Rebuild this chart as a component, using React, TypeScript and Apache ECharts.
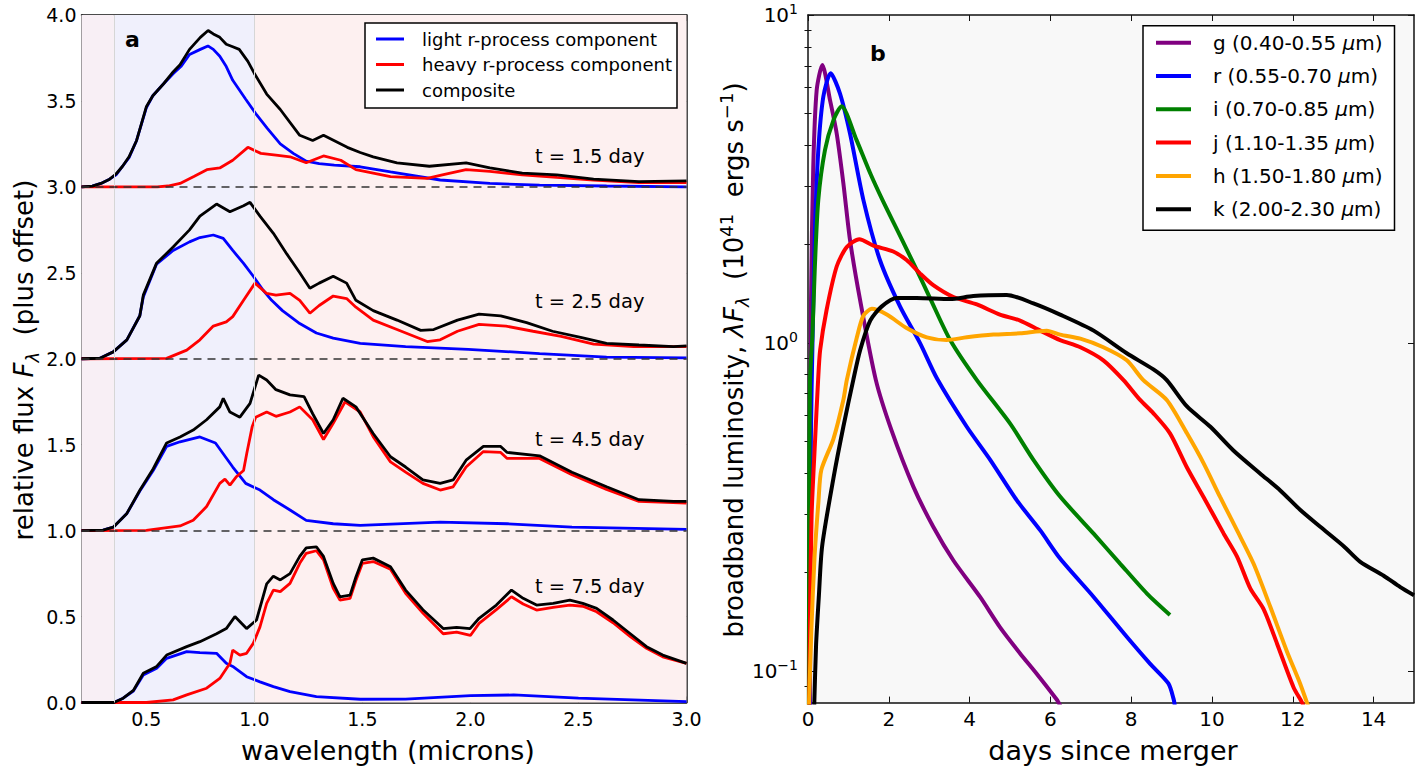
import React, { useEffect, useRef } from 'react';
import * as echarts from 'echarts';

const FONT = 'DejaVu Sans';

// ---------- panel a: spectra, [wavelength (microns), relative flux + offset] ----------
const waveTicks = [0.5, 1.0, 1.5, 2.0, 2.5, 3.0];
const offsetLevels = [1, 2, 3];
const epochLabels = ['t = 1.5 day', 't = 2.5 day', 't = 4.5 day', 't = 7.5 day'];
const componentNames = ['light r-process component', 'heavy r-process component', 'composite'];
const componentColors = ['#0000ff', '#ff0000', '#000000'];

const light15 = [[0.2,3.0],[0.25,3.004],[0.29,3.02],[0.33,3.045],[0.36,3.07],[0.39,3.12],[0.42,3.17],[0.455,3.27],[0.5,3.46],[0.53,3.53],[0.58,3.6],[0.625,3.66],[0.66,3.7],[0.7,3.77],[0.75,3.8],[0.785,3.82],[0.81,3.8],[0.84,3.76],[0.87,3.7],[0.9,3.62],[0.96,3.51],[1.01,3.42],[1.06,3.34],[1.12,3.25],[1.18,3.195],[1.24,3.15],[1.3,3.135],[1.37,3.127],[1.49,3.117],[1.63,3.087],[1.86,3.04],[2.09,3.02],[2.32,3.01],[2.63,3.005],[3.0,3.0]];
const heavy15 = [[0.2,3.0],[0.55,3.0],[0.6,3.005],[0.656,3.02],[0.72,3.06],[0.78,3.1],[0.84,3.11],[0.9,3.155],[0.97,3.23],[1.03,3.195],[1.1,3.185],[1.165,3.175],[1.24,3.14],[1.32,3.18],[1.4,3.155],[1.47,3.1],[1.55,3.08],[1.63,3.06],[1.8,3.05],[1.87,3.07],[1.98,3.1],[2.09,3.09],[2.24,3.07],[2.4,3.055],[2.57,3.04],[2.78,3.025],[3.0,3.025]];
const composite15 = [[0.2,3.0],[0.25,3.004],[0.29,3.02],[0.33,3.045],[0.36,3.075],[0.39,3.12],[0.42,3.175],[0.455,3.27],[0.5,3.466],[0.53,3.53],[0.58,3.6],[0.625,3.67],[0.656,3.71],[0.7,3.8],[0.75,3.87],[0.786,3.91],[0.81,3.89],[0.84,3.87],[0.87,3.83],[0.9,3.815],[0.93,3.8],[0.97,3.73],[1.0,3.66],[1.057,3.54],[1.12,3.45],[1.21,3.3],[1.27,3.27],[1.32,3.3],[1.43,3.23],[1.49,3.2],[1.55,3.175],[1.66,3.14],[1.81,3.12],[1.98,3.14],[2.09,3.11],[2.24,3.08],[2.4,3.07],[2.57,3.045],[2.78,3.03],[3.0,3.035]];

const light25 = [[0.2,2.0],[0.285,2.003],[0.347,2.04],[0.41,2.11],[0.47,2.25],[0.486,2.36],[0.547,2.55],[0.624,2.63],[0.7,2.68],[0.748,2.705],[0.81,2.72],[0.856,2.7],[0.9,2.63],[0.95,2.555],[0.995,2.48],[1.04,2.4],[1.08,2.34],[1.13,2.28],[1.21,2.205],[1.287,2.15],[1.365,2.12],[1.49,2.09],[1.7,2.07],[1.99,2.055],[2.32,2.03],[2.63,2.01],[3.0,2.005]];
const heavy25 = [[0.2,2.0],[0.594,2.002],[0.687,2.05],[0.748,2.11],[0.81,2.19],[0.87,2.215],[0.9,2.245],[0.95,2.34],[1.003,2.44],[1.057,2.38],[1.1,2.37],[1.165,2.38],[1.21,2.34],[1.257,2.265],[1.3,2.31],[1.365,2.365],[1.427,2.35],[1.47,2.3],[1.55,2.225],[1.66,2.17],[1.8,2.1],[1.86,2.11],[1.94,2.16],[2.04,2.2],[2.165,2.19],[2.29,2.16],[2.42,2.13],[2.57,2.085],[2.755,2.07],[3.0,2.07]];
const composite25 = [[0.2,2.0],[0.285,2.003],[0.347,2.04],[0.41,2.11],[0.47,2.25],[0.486,2.37],[0.547,2.555],[0.624,2.65],[0.7,2.75],[0.748,2.83],[0.825,2.9],[0.887,2.855],[0.95,2.89],[0.98,2.91],[1.026,2.83],[1.088,2.73],[1.15,2.61],[1.21,2.5],[1.257,2.41],[1.3,2.44],[1.365,2.48],[1.427,2.44],[1.47,2.34],[1.55,2.28],[1.66,2.225],[1.77,2.165],[1.83,2.17],[1.94,2.225],[2.04,2.26],[2.14,2.25],[2.26,2.21],[2.38,2.16],[2.51,2.125],[2.63,2.09],[2.78,2.08],[2.94,2.07],[3.0,2.075]];

const light45 = [[0.2,1.0],[0.3,1.003],[0.347,1.02],[0.41,1.1],[0.47,1.23],[0.532,1.35],[0.594,1.49],[0.656,1.517],[0.748,1.545],[0.82,1.51],[0.9,1.37],[0.96,1.275],[1.026,1.236],[1.088,1.18],[1.165,1.12],[1.24,1.06],[1.365,1.04],[1.49,1.03],[1.86,1.05],[2.17,1.04],[2.47,1.02],[3.0,1.007]];
const heavy45 = [[0.2,1.0],[0.5,1.002],[0.656,1.027],[0.717,1.06],[0.779,1.14],[0.84,1.275],[0.864,1.3],[0.887,1.265],[0.918,1.315],[0.95,1.35],[0.965,1.45],[0.99,1.605],[1.006,1.66],[1.057,1.69],[1.1,1.665],[1.165,1.69],[1.21,1.72],[1.27,1.645],[1.32,1.53],[1.365,1.625],[1.42,1.75],[1.49,1.69],[1.55,1.547],[1.63,1.4],[1.7,1.34],[1.78,1.275],[1.86,1.236],[1.92,1.255],[1.98,1.37],[2.06,1.46],[2.14,1.455],[2.17,1.42],[2.32,1.42],[2.47,1.325],[2.63,1.24],[2.78,1.17],[3.0,1.16]];
const composite45 = [[0.2,1.0],[0.3,1.003],[0.347,1.02],[0.41,1.1],[0.47,1.235],[0.532,1.36],[0.594,1.51],[0.656,1.545],[0.717,1.585],[0.779,1.645],[0.84,1.72],[0.856,1.77],[0.887,1.69],[0.933,1.66],[0.98,1.74],[1.02,1.905],[1.057,1.876],[1.1,1.82],[1.165,1.79],[1.23,1.78],[1.27,1.68],[1.32,1.565],[1.365,1.645],[1.41,1.77],[1.47,1.72],[1.55,1.565],[1.63,1.43],[1.7,1.37],[1.78,1.295],[1.86,1.275],[1.92,1.295],[1.98,1.41],[2.06,1.49],[2.14,1.49],[2.17,1.455],[2.32,1.435],[2.47,1.34],[2.63,1.255],[2.78,1.18],[2.94,1.17],[3.0,1.17]];

const light75 = [[0.2,0],[0.35,0.0],[0.393,0.025],[0.44,0.067],[0.486,0.16],[0.548,0.199],[0.594,0.257],[0.687,0.296],[0.748,0.29],[0.825,0.286],[0.87,0.228],[0.9,0.21],[0.964,0.15],[1.026,0.12],[1.088,0.092],[1.165,0.063],[1.287,0.034],[1.49,0.019],[1.7,0.02],[2.0,0.04],[2.2,0.044],[2.5,0.025],[3.0,0.005]];
const heavy75 = [[0.2,0],[0.5,0.0],[0.624,0.015],[0.687,0.044],[0.779,0.083],[0.84,0.14],[0.887,0.228],[0.9,0.305],[0.933,0.276],[0.964,0.286],[0.995,0.344],[1.026,0.44],[1.057,0.577],[1.088,0.654],[1.12,0.645],[1.165,0.693],[1.21,0.81],[1.24,0.868],[1.287,0.883],[1.32,0.83],[1.365,0.664],[1.396,0.596],[1.443,0.606],[1.47,0.71],[1.5,0.81],[1.55,0.82],[1.63,0.775],[1.7,0.635],[1.78,0.52],[1.874,0.4],[1.936,0.41],[2.0,0.39],[2.04,0.46],[2.12,0.54],[2.19,0.615],[2.244,0.573],[2.306,0.538],[2.383,0.554],[2.46,0.567],[2.52,0.56],[2.584,0.528],[2.66,0.464],[2.74,0.383],[2.815,0.315],[2.89,0.266],[3.0,0.228]];
const composite75 = [[0.2,0],[0.35,0.0],[0.393,0.025],[0.44,0.07],[0.486,0.17],[0.548,0.21],[0.594,0.276],[0.687,0.325],[0.748,0.354],[0.825,0.4],[0.87,0.43],[0.91,0.5],[0.964,0.43],[1.01,0.48],[1.057,0.69],[1.088,0.735],[1.12,0.713],[1.165,0.75],[1.21,0.85],[1.24,0.9],[1.287,0.906],[1.32,0.85],[1.365,0.693],[1.396,0.615],[1.443,0.625],[1.47,0.73],[1.5,0.83],[1.55,0.84],[1.63,0.79],[1.7,0.654],[1.78,0.54],[1.874,0.43],[1.936,0.437],[1.998,0.43],[2.04,0.49],[2.12,0.567],[2.19,0.654],[2.244,0.606],[2.306,0.567],[2.383,0.577],[2.46,0.596],[2.52,0.577],[2.584,0.548],[2.66,0.48],[2.74,0.4],[2.815,0.325],[2.89,0.276],[3.0,0.228]];

const lightSpectra = [light15, light25, light45, light75];
const heavySpectra = [heavy15, heavy25, heavy45, heavy75];
const compositeSpectra = [composite15, composite25, composite45, composite75];

// ---------- panel b: broadband light curves, [days since merger, luminosity (1e41 erg/s)] ----------
const dayTicks = [0, 2, 4, 6, 8, 10, 12, 14];
const lumMajor = [0.1, 1, 10];
const lumMinor = [0.09, 0.2, 0.3, 0.4, 0.5, 0.6, 0.7, 0.8, 0.9, 2, 3, 4, 5, 6, 7, 8, 9];
const bandNames = ['g (0.40-0.55 μm)', 'r (0.55-0.70 μm)', 'i (0.70-0.85 μm)', 'j (1.10-1.35 μm)', 'h (1.50-1.80 μm)', 'k (2.00-2.30 μm)'];
const bandColors = ['#800080', '#0000ff', '#008000', '#ff0000', '#ffa500', '#000000'];

const gBand = [[0.04,0.075],[0.05,0.3],[0.075,1.35],[0.13,3.44],[0.215,5.9],[0.355,7.04],[0.545,5.5],[0.71,4.35],[0.875,3.07],[1.04,2.06],[1.29,1.35],[1.68,0.77],[2.07,0.54],[2.61,0.364],[3.1,0.275],[3.6,0.217],[4.26,0.168],[4.75,0.136],[5.25,0.113],[5.66,0.098],[6.16,0.0816],[6.25,0.078]];
const rBand = [[0.05,0.075],[0.07,0.5],[0.115,1.06],[0.17,2.16],[0.255,3.87],[0.38,5.64],[0.56,6.64],[0.79,5.77],[1.04,4.35],[1.37,2.73],[1.78,1.79],[2.28,1.29],[2.77,1.0],[3.19,0.78],[3.93,0.555],[4.51,0.44],[5.17,0.331],[5.75,0.268],[6.24,0.22],[7.07,0.168],[7.89,0.127],[8.47,0.105],[8.92,0.0915],[9.05,0.082],[9.08,0.078]];
const iBand = [[0.02,0.075],[0.03,0.3],[0.05,0.77],[0.11,1.06],[0.17,1.71],[0.255,2.73],[0.42,3.87],[0.63,4.78],[0.83,5.27],[1.2,4.16],[1.54,3.29],[1.86,2.7],[2.28,2.12],[2.69,1.67],[3.02,1.37],[3.52,1.02],[4.18,0.77],[5.0,0.568],[5.58,0.44],[6.24,0.34],[7.07,0.262],[7.73,0.212],[8.39,0.172],[8.96,0.148]];
const jBand = [[0.03,0.075],[0.05,0.15],[0.09,0.3],[0.17,0.49],[0.25,0.77],[0.3,0.95],[0.46,1.26],[0.71,1.71],[0.96,1.96],[1.27,2.07],[1.62,1.98],[2.11,1.9],[2.44,1.79],[2.77,1.63],[3.1,1.5],[3.6,1.38],[4.18,1.31],[4.75,1.22],[5.25,1.17],[5.75,1.09],[6.24,1.02],[6.74,0.97],[7.31,0.885],[7.81,0.77],[8.22,0.67],[8.55,0.61],[8.96,0.53],[9.38,0.417],[9.79,0.339],[10.29,0.262],[10.62,0.223],[10.95,0.178],[11.28,0.154],[11.61,0.121],[12.02,0.089],[12.23,0.08],[12.28,0.077]];
const hBand = [[0.02,0.075],[0.08,0.13],[0.16,0.22],[0.26,0.33],[0.33,0.41],[0.63,0.51],[0.875,0.67],[0.96,0.77],[1.21,1.04],[1.37,1.21],[1.58,1.27],[1.95,1.22],[2.44,1.11],[2.94,1.04],[3.43,1.02],[3.93,1.04],[4.59,1.06],[5.25,1.07],[5.91,1.09],[6.24,1.06],[6.74,1.03],[7.31,0.97],[7.89,0.885],[8.3,0.77],[8.88,0.67],[9.38,0.53],[9.79,0.43],[10.2,0.339],[10.62,0.268],[11.03,0.212],[11.44,0.157],[11.85,0.115],[12.18,0.0915],[12.35,0.08],[12.4,0.077]];
const kBand = [[0.15,0.075],[0.2,0.12],[0.27,0.17],[0.35,0.24],[0.63,0.387],[0.875,0.555],[1.12,0.77],[1.29,0.95],[1.54,1.17],[1.82,1.29],[2.2,1.37],[2.69,1.37],[3.52,1.36],[4.09,1.39],[4.92,1.4],[5.58,1.32],[6.24,1.22],[7.07,1.09],[7.89,0.93],[8.55,0.83],[8.88,0.77],[9.38,0.64],[9.96,0.555],[10.53,0.47],[11.19,0.4],[11.69,0.355],[12.18,0.31],[12.68,0.275],[13.26,0.24],[13.67,0.215],[14.25,0.195],[14.66,0.18],[15.0,0.17]];

const bandCurves = [gBand, rBand, iBand, jBand, hBand, kBand];

// ---------- styling helpers ----------
const FRAME = '#111111';
const frameLine = { show: true, onZero: false, lineStyle: { color: FRAME, width: 1.5 } };
const inTick = (length: number, customValues?: number[]) => ({
  show: true,
  inside: true,
  length,
  lineStyle: { color: FRAME, width: 1 },
  ...(customValues ? { customValues } : {}),
});

const mathRich = (fs: number) => ({
  n: { fontFamily: FONT, fontSize: fs, color: '#000' },
  i: { fontFamily: FONT, fontSize: fs, color: '#000', fontStyle: 'italic' },
  sub: { fontFamily: FONT, fontSize: Math.round(fs * 0.7), color: '#000', fontStyle: 'italic', padding: [Math.round(fs * 0.6), 0, 0, 0] },
  sup: { fontFamily: FONT, fontSize: Math.round(fs * 0.7), color: '#000', padding: [0, 0, Math.round(fs * 0.6), 0] },
});

function buildOption() {
  const spectraSeries: any[] = [];
  [lightSpectra, heavySpectra, compositeSpectra].forEach((sets, k) => {
    sets.forEach((d) => {
      spectraSeries.push({
        type: 'line',
        name: componentNames[k],
        data: d,
        xAxisIndex: 0,
        yAxisIndex: 0,
        symbol: 'none',
        lineStyle: { color: componentColors[k], width: 2.8 },
        itemStyle: { color: componentColors[k] },
        z: 3,
      });
    });
  });

  const bandSeries = bandCurves.map((d, i) => ({
    type: 'line',
    name: bandNames[i],
    data: d,
    xAxisIndex: 2,
    yAxisIndex: 2,
    symbol: 'none',
    smooth: 0.25,
    clip: true,
    lineStyle: { color: bandColors[i], width: 4 },
    itemStyle: { color: bandColors[i] },
    z: 3,
  }));

  const regionSeries = {
    type: 'line',
    name: 'regions',
    data: [],
    xAxisIndex: 0,
    yAxisIndex: 0,
    z: 1,
    silent: true,
    markArea: {
      silent: true,
      data: [
        [{ xAxis: 0.2, itemStyle: { color: '#f8eff5' } }, { xAxis: 0.35 }],
        [{ xAxis: 0.35, itemStyle: { color: '#f0f0fc' } }, { xAxis: 1.0 }],
        [{ xAxis: 1.0, itemStyle: { color: '#fdf0f0' } }, { xAxis: 3.0 }],
      ],
    },
    markLine: {
      silent: true,
      symbol: ['none', 'none'],
      label: { show: false },
      lineStyle: { color: '#d6d6d6', width: 1, type: 'solid' },
      data: [{ xAxis: 0.35 }, { xAxis: 1.0 }],
    },
  };

  const offsetSeries = {
    type: 'line',
    name: 'offsets',
    data: [],
    xAxisIndex: 0,
    yAxisIndex: 0,
    z: 6,
    silent: true,
    markLine: {
      silent: true,
      z: 6,
      symbol: ['none', 'none'],
      label: { show: false },
      lineStyle: { color: '#333', width: 1.5, type: [8, 6] },
      data: offsetLevels.map((v) => ({ yAxis: v })),
    },
  };

  const epochY = [156, 301, 439, 586];

  return {
    animation: false,
    backgroundColor: '#ffffff',
    textStyle: { fontFamily: FONT },
    grid: [
      { left: 81.5, top: 15, width: 605, height: 687.5, outerBoundsMode: 'none', containLabel: false },
      { left: 808, top: 15, width: 606, height: 687.6, outerBoundsMode: 'none', containLabel: false, show: true, backgroundColor: '#f8f8f8', borderWidth: 0 },
    ],
    xAxis: [
      {
        type: 'value', gridIndex: 0, position: 'bottom', min: 0.2, max: 3.0,
        splitLine: { show: false }, axisLine: frameLine, axisTick: inTick(6, waveTicks),
        axisLabel: { customValues: waveTicks, formatter: (v: number) => v.toFixed(1), fontFamily: FONT, fontSize: 19, color: '#000', margin: 7 },
      },
      {
        type: 'value', gridIndex: 0, position: 'top', min: 0.2, max: 3.0,
        splitLine: { show: false }, axisLine: frameLine, axisTick: inTick(6, waveTicks), axisLabel: { show: false },
      },
      {
        type: 'value', gridIndex: 1, position: 'bottom', min: 0, max: 15,
        splitLine: { show: false }, axisLine: frameLine, axisTick: inTick(6, dayTicks),
        axisLabel: { customValues: dayTicks, fontFamily: FONT, fontSize: 20, color: '#000', margin: 6 },
      },
      {
        type: 'value', gridIndex: 1, position: 'top', min: 0, max: 15,
        splitLine: { show: false }, axisLine: frameLine, axisTick: inTick(6, dayTicks), axisLabel: { show: false },
      },
    ],
    yAxis: [
      {
        type: 'value', gridIndex: 0, position: 'left', min: 0, max: 4, interval: 0.5,
        splitLine: { show: false }, axisLine: frameLine, axisTick: inTick(6),
        axisLabel: { formatter: (v: number) => v.toFixed(1), fontFamily: FONT, fontSize: 19, color: '#000', margin: 5 },
      },
      {
        type: 'value', gridIndex: 0, position: 'right', min: 0, max: 4, interval: 0.5,
        splitLine: { show: false }, axisLine: frameLine, axisTick: inTick(6), axisLabel: { show: false },
      },
      {
        type: 'log', logBase: 10, gridIndex: 1, position: 'left', min: 0.08, max: 10,
        splitLine: { show: false }, axisLine: frameLine, axisTick: inTick(6, lumMajor),
        axisLabel: {
          customValues: lumMajor,
          margin: 10,
          formatter: (v: number) => {
            const e = Math.round(Math.log10(v));
            return `{n|10}{sup|${e < 0 ? '\u2212' + Math.abs(e) : e}}`;
          },
          rich: {
            n: { fontFamily: FONT, fontSize: 20, color: '#000' },
            sup: { fontFamily: FONT, fontSize: 14, color: '#000', padding: [0, 0, 12, 0] },
          },
        },
      },
      {
        type: 'log', logBase: 10, gridIndex: 1, position: 'right', min: 0.08, max: 10,
        splitLine: { show: false }, axisLine: frameLine, axisTick: inTick(6, lumMajor), axisLabel: { show: false },
      },
      {
        type: 'log', logBase: 10, gridIndex: 1, position: 'left', min: 0.08, max: 10,
        splitLine: { show: false }, axisLine: { show: false }, axisTick: inTick(3.5, lumMinor), axisLabel: { show: false },
      },
      {
        type: 'log', logBase: 10, gridIndex: 1, position: 'right', min: 0.08, max: 10,
        splitLine: { show: false }, axisLine: { show: false }, axisTick: inTick(3.5, lumMinor), axisLabel: { show: false },
      },
    ],
    legend: [
      {
        data: componentNames,
        orient: 'vertical',
        left: 365,
        top: 23,
        icon: 'rect',
        itemWidth: 28,
        itemHeight: 3,
        itemGap: 7.5,
        padding: [7, 5, 9, 11],
        borderColor: '#000',
        borderWidth: 1.5,
        borderRadius: 0,
        backgroundColor: '#ffffff',
        selectedMode: false,
        formatter: (name: string) => `{p|}{n|${name}}`,
        textStyle: {
          rich: {
            p: { width: 13 },
            n: { fontFamily: FONT, fontSize: 18, lineHeight: 18, color: '#000' },
          },
        },
      },
      {
        data: bandNames,
        orient: 'vertical',
        left: 1143,
        top: 25.7,
        icon: 'rect',
        itemWidth: 35,
        itemHeight: 4,
        itemGap: 13.3,
        padding: [7, 12, 11, 13],
        borderColor: '#000',
        borderWidth: 1.5,
        borderRadius: 0,
        backgroundColor: '#ffffff',
        selectedMode: false,
        formatter: (name: string) => {
          const [a, b] = name.split('μ');
          return `{p|}{n|${a}}{i|μ}{n|${b}}`;
        },
        textStyle: {
          rich: {
            p: { width: 17 },
            n: { fontFamily: FONT, fontSize: 20, lineHeight: 20, color: '#000' },
            i: { fontFamily: FONT, fontSize: 20, lineHeight: 20, color: '#000', fontStyle: 'italic' },
          },
        },
      },
    ],
    graphic: [
      { type: 'text', x: 125, y: 39, z: 10, style: { text: 'a', font: `bold 22px "${FONT}"`, fill: '#000', textAlign: 'left', align: 'left', textVerticalAlign: 'middle', verticalAlign: 'middle' } },
      { type: 'text', x: 870, y: 53, z: 10, style: { text: 'b', font: `bold 22px "${FONT}"`, fill: '#000', textAlign: 'left', align: 'left', textVerticalAlign: 'middle', verticalAlign: 'middle' } },
      ...epochLabels.map((t, i) => ({
        type: 'text', x: 535, y: epochY[i], z: 10,
        style: { text: t, font: `19.5px "${FONT}"`, fill: '#000', textAlign: 'left', align: 'left', textVerticalAlign: 'middle', verticalAlign: 'middle' },
      })),
      {
        type: 'text', x: 388, y: 750, z: 10,
        style: { text: 'wavelength (microns)', font: `27px "${FONT}"`, fill: '#000', textAlign: 'center', align: 'center', textVerticalAlign: 'middle', verticalAlign: 'middle' },
      },
      {
        type: 'text', x: 1113, y: 750, z: 10,
        style: { text: 'days since merger', font: `27px "${FONT}"`, fill: '#000', textAlign: 'center', align: 'center', textVerticalAlign: 'middle', verticalAlign: 'middle' },
      },
      {
        type: 'text', x: 24, y: 360, rotation: Math.PI / 2, z: 10,
        style: {
          text: '{n|relative flux }{i|F}{sub|λ}{n|  (plus offset)}',
          rich: mathRich(26),
          textAlign: 'center', align: 'center', textVerticalAlign: 'middle', verticalAlign: 'middle',
        },
      },
      {
        type: 'text', x: 734, y: 360, rotation: Math.PI / 2, z: 10,
        style: {
          text: '{n|broadband luminosity, }{i|λF}{sub|λ}{n|  (10}{sup|41}{n|  ergs s}{sup|\u22121}{n|)}',
          rich: mathRich(26),
          textAlign: 'center', align: 'center', textVerticalAlign: 'middle', verticalAlign: 'middle',
        },
      },
    ],
    series: [regionSeries, ...spectraSeries, offsetSeries, ...bandSeries],
  };
}

export default function App() {
  const ref = useRef<HTMLDivElement>(null);
  useEffect(() => {
    if (!ref.current) return;
    const chart = echarts.init(ref.current, undefined, { renderer: 'svg' });
    chart.setOption(buildOption() as any);
    return () => chart.dispose();
  }, []);
  return (
    <div
      ref={ref}
      style={{ position: 'fixed', left: 0, top: 0, width: 1427, height: 767, background: '#fff' }}
    />
  );
}
